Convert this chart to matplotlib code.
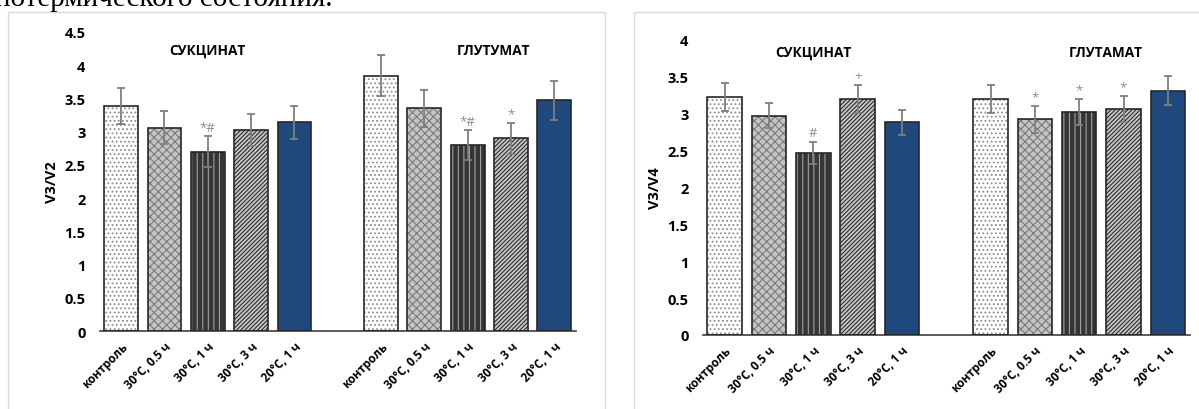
import numpy as np
import matplotlib.pyplot as plt
from matplotlib.patches import Rectangle

plt.rcParams['font.family'] = ['Open Sans', 'DejaVu Sans']
plt.rcParams['hatch.linewidth'] = 0.8

# data
groups = ['СУКЦИНАТ', 'ГЛУТУМАТ']
groups_r = ['СУКЦИНАТ', 'ГЛУТАМАТ']
categories = ['контроль', '30°C, 0.5 ч', '30°C, 1 ч', '30°C, 3 ч', '20°C, 1 ч']

v3v2_succ = [3.38, 3.06, 2.70, 3.03, 3.14]
v3v2_succ_err = [0.27, 0.25, 0.23, 0.24, 0.25]
v3v2_glu = [3.84, 3.35, 2.80, 2.90, 3.47]
v3v2_glu_err = [0.31, 0.28, 0.22, 0.23, 0.29]
v3v2_marks = ['', '', '*#', '', '', '', '', '*#', '*', '']

v3v4_succ = [3.23, 2.97, 2.47, 3.20, 2.88]
v3v4_succ_err = [0.19, 0.17, 0.15, 0.19, 0.17]
v3v4_glu = [3.20, 2.92, 3.02, 3.06, 3.31]
v3v4_glu_err = [0.19, 0.18, 0.18, 0.18, 0.20]
v3v4_marks = ['', '', '#', '+', '', '', '*', '*', '*', '']

# bar looks
faces = ['white', '#c4c4c4', '#353535', '#c8c8c8', '#1f497d']
hatches = ['....', 'xxxx', '|||', '////////', None]
hatch_cols = ['#8c8c8c', '#7a7a7a', '#a0a0a0', '#2a2a2a', None]

W, H = 1199, 410
fig = plt.figure(figsize=(W / 100, H / 100), dpi=100)

# document text cut at the top
fig.text(-0.004, 1 - 6 / H, 'нотермического состояния.', family='Liberation Serif',
         fontsize=21, va='baseline', ha='left', color='black')

# panel frames
for x0, x1 in [(8, 605), (634, 1205)]:
    fig.patches.append(Rectangle((x0 / W, -0.01), (x1 - x0) / W, 1 - 13 / H + 0.01,
                                 transform=fig.transFigure, fill=False,
                                 edgecolor='#d9d9d9', linewidth=1))


def px_axes(x0, x1, yb, yt):
    return fig.add_axes([x0 / W, 1 - yb / H, (x1 - x0) / W, (yb - yt) / H])


def draw_panel(ax, vals, errs, marks, ymax, yticks, ylabel, titles, title_y, pad):
    x = np.array([0, 1, 2, 3, 4, 6, 7, 8, 9, 10])
    for i, (xi, v) in enumerate(zip(x, vals)):
        k = i % 5
        ax.bar(xi, v, width=0.78, color=faces[k], edgecolor='none', zorder=2)
        if hatches[k]:
            ax.bar(xi, v, width=0.78, facecolor='none', edgecolor=hatch_cols[k],
                   hatch=hatches[k], linewidth=0, zorder=3)
        ax.bar(xi, v, width=0.78, fill=False, edgecolor='#262626', linewidth=1.2, zorder=4)
    ax.errorbar(x, vals, yerr=errs, fmt='none', ecolor='#7f7f7f', elinewidth=1.3,
                capsize=3, capthick=1.3, zorder=5)
    for xi, v, e, m in zip(x, vals, errs, marks):
        if m:
            ax.annotate(m, (xi, v + e), xytext=(0, 2), textcoords='offset points',
                        ha='center', va='bottom', fontsize=9.5, color='#8c8c8c')
    ax.text(2, title_y, titles[0], ha='center', va='center', fontsize=9.8, fontweight='bold')
    ax.text(8.6, title_y, titles[1], ha='center', va='center', fontsize=9.8, fontweight='bold')
    ax.set_xlim(-0.5, 10.5)
    ax.set_ylim(0, ymax)
    ax.set_yticks(yticks)
    ax.set_yticklabels([('%g' % t) for t in yticks], fontweight='bold', fontsize=10.5)
    ax.set_xticks(x)
    ax.set_xticklabels(categories * 2, rotation=45, ha='right', rotation_mode='anchor',
                       fontsize=8.5, fontweight='bold')
    ax.tick_params(axis='y', length=0, pad=pad)
    ax.tick_params(axis='x', length=0, pad=6)
    for s in ['top', 'right', 'left']:
        ax.spines[s].set_visible(False)
    ax.spines['bottom'].set_color('#404040')
    ax.spines['bottom'].set_linewidth(1.2)
    ax.set_ylabel(ylabel, fontweight='bold', fontsize=10.5, labelpad=4)
    ax.patch.set_alpha(0)


ax1 = px_axes(99.5, 576, 332, 33)
draw_panel(ax1, v3v2_succ + v3v2_glu, v3v2_succ_err + v3v2_glu_err, v3v2_marks,
           4.5, np.arange(0, 4.51, 0.5), 'V3/V2', groups, 4.23, 10)

ax2 = px_axes(702.5, 1190, 336, 40.7)
draw_panel(ax2, v3v4_succ + v3v4_glu, v3v4_succ_err + v3v4_glu_err, v3v4_marks,
           4, np.arange(0, 4.01, 0.5), 'V3/V4', groups_r, 3.83, 10)

fig.savefig('out.png', dpi=100)
